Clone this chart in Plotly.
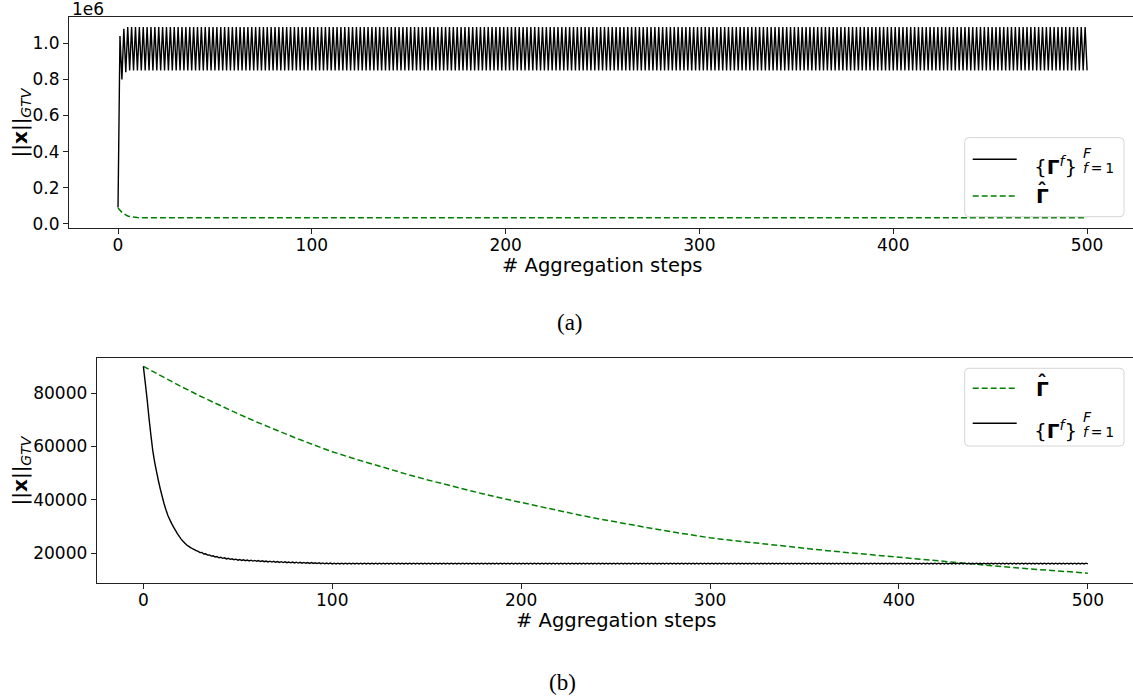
import plotly.graph_objects as go

# ---------------- data ----------------
# Panel (a): values in units of 1e6
gamma_f_a = [
    0.09, 1.04, 0.80, 1.08, 0.84,
    1.09, 0.85, 1.09, 0.85, 1.09, 0.85, 1.09, 0.85, 1.09, 0.85, 1.09, 0.85, 1.09, 0.85, 1.09, 0.85, 1.09, 0.85, 1.09, 0.85,
    1.09, 0.85, 1.09, 0.85, 1.09, 0.85, 1.09, 0.85, 1.09, 0.85, 1.09, 0.85, 1.09, 0.85, 1.09, 0.85, 1.09, 0.85, 1.09, 0.85,
    1.09, 0.85, 1.09, 0.85, 1.09, 0.85, 1.09, 0.85, 1.09, 0.85, 1.09, 0.85, 1.09, 0.85, 1.09, 0.85, 1.09, 0.85, 1.09, 0.85,
    1.09, 0.85, 1.09, 0.85, 1.09, 0.85, 1.09, 0.85, 1.09, 0.85, 1.09, 0.85, 1.09, 0.85, 1.09, 0.85, 1.09, 0.85, 1.09, 0.85,
    1.09, 0.85, 1.09, 0.85, 1.09, 0.85, 1.09, 0.85, 1.09, 0.85, 1.09, 0.85, 1.09, 0.85, 1.09, 0.85, 1.09, 0.85, 1.09, 0.85,
    1.09, 0.85, 1.09, 0.85, 1.09, 0.85, 1.09, 0.85, 1.09, 0.85, 1.09, 0.85, 1.09, 0.85, 1.09, 0.85, 1.09, 0.85, 1.09, 0.85,
    1.09, 0.85, 1.09, 0.85, 1.09, 0.85, 1.09, 0.85, 1.09, 0.85, 1.09, 0.85, 1.09, 0.85, 1.09, 0.85, 1.09, 0.85, 1.09, 0.85,
    1.09, 0.85, 1.09, 0.85, 1.09, 0.85, 1.09, 0.85, 1.09, 0.85, 1.09, 0.85, 1.09, 0.85, 1.09, 0.85, 1.09, 0.85, 1.09, 0.85,
    1.09, 0.85, 1.09, 0.85, 1.09, 0.85, 1.09, 0.85, 1.09, 0.85, 1.09, 0.85, 1.09, 0.85, 1.09, 0.85, 1.09, 0.85, 1.09, 0.85,
    1.09, 0.85, 1.09, 0.85, 1.09, 0.85, 1.09, 0.85, 1.09, 0.85, 1.09, 0.85, 1.09, 0.85, 1.09, 0.85, 1.09, 0.85, 1.09, 0.85,
    1.09, 0.85, 1.09, 0.85, 1.09, 0.85, 1.09, 0.85, 1.09, 0.85, 1.09, 0.85, 1.09, 0.85, 1.09, 0.85, 1.09, 0.85, 1.09, 0.85,
    1.09, 0.85, 1.09, 0.85, 1.09, 0.85, 1.09, 0.85, 1.09, 0.85, 1.09, 0.85, 1.09, 0.85, 1.09, 0.85, 1.09, 0.85, 1.09, 0.85,
    1.09, 0.85, 1.09, 0.85, 1.09, 0.85, 1.09, 0.85, 1.09, 0.85, 1.09, 0.85, 1.09, 0.85, 1.09, 0.85, 1.09, 0.85, 1.09, 0.85,
    1.09, 0.85, 1.09, 0.85, 1.09, 0.85, 1.09, 0.85, 1.09, 0.85, 1.09, 0.85, 1.09, 0.85, 1.09, 0.85, 1.09, 0.85, 1.09, 0.85,
    1.09, 0.85, 1.09, 0.85, 1.09, 0.85, 1.09, 0.85, 1.09, 0.85, 1.09, 0.85, 1.09, 0.85, 1.09, 0.85, 1.09, 0.85, 1.09, 0.85,
    1.09, 0.85, 1.09, 0.85, 1.09, 0.85, 1.09, 0.85, 1.09, 0.85, 1.09, 0.85, 1.09, 0.85, 1.09, 0.85, 1.09, 0.85, 1.09, 0.85,
    1.09, 0.85, 1.09, 0.85, 1.09, 0.85, 1.09, 0.85, 1.09, 0.85, 1.09, 0.85, 1.09, 0.85, 1.09, 0.85, 1.09, 0.85, 1.09, 0.85,
    1.09, 0.85, 1.09, 0.85, 1.09, 0.85, 1.09, 0.85, 1.09, 0.85, 1.09, 0.85, 1.09, 0.85, 1.09, 0.85, 1.09, 0.85, 1.09, 0.85,
    1.09, 0.85, 1.09, 0.85, 1.09, 0.85, 1.09, 0.85, 1.09, 0.85, 1.09, 0.85, 1.09, 0.85, 1.09, 0.85, 1.09, 0.85, 1.09, 0.85,
    1.09, 0.85, 1.09, 0.85, 1.09, 0.85, 1.09, 0.85, 1.09, 0.85, 1.09, 0.85, 1.09, 0.85, 1.09, 0.85, 1.09, 0.85, 1.09, 0.85,
    1.09, 0.85, 1.09, 0.85, 1.09, 0.85, 1.09, 0.85, 1.09, 0.85, 1.09, 0.85, 1.09, 0.85, 1.09, 0.85, 1.09, 0.85, 1.09, 0.85,
    1.09, 0.85, 1.09, 0.85, 1.09, 0.85, 1.09, 0.85, 1.09, 0.85, 1.09, 0.85, 1.09, 0.85, 1.09, 0.85, 1.09, 0.85, 1.09, 0.85,
    1.09, 0.85, 1.09, 0.85, 1.09, 0.85, 1.09, 0.85, 1.09, 0.85, 1.09, 0.85, 1.09, 0.85, 1.09, 0.85, 1.09, 0.85, 1.09, 0.85,
    1.09, 0.85, 1.09, 0.85, 1.09, 0.85, 1.09, 0.85, 1.09, 0.85, 1.09, 0.85, 1.09, 0.85, 1.09, 0.85, 1.09, 0.85, 1.09, 0.85,
    1.09, 0.85, 1.09, 0.85, 1.09, 0.85, 1.09, 0.85, 1.09, 0.85, 1.09, 0.85, 1.09, 0.85, 1.09, 0.85,
]
steps_a = list(range(len(gamma_f_a)))

hat_steps_a = [0, 1, 2, 3, 4, 5, 6, 7, 8, 9, 10, 12, 15, 20, 50, 100, 150, 200, 250, 300, 350, 400, 450, 500]
gamma_hat_a = [0.087, 0.074, 0.063, 0.055, 0.048, 0.043, 0.040, 0.038, 0.036, 0.035, 0.034, 0.0335, 0.033,
               0.033, 0.033, 0.033, 0.033, 0.033, 0.033, 0.033, 0.033, 0.033, 0.033, 0.033]

# Panel (b)
gamma_f_b = [
    90000, 83900, 77600, 70500, 64200, 58300, 54000, 50400, 47000, 43900,
    41100, 38400, 36100, 34100, 32500, 31000, 29700, 28500, 27300, 26200,
    25200, 24400, 23700, 23000, 22500, 22000, 21600, 21300, 20900, 20600,
    20150, 20200, 19650, 19700, 19200, 19300, 18830, 18950, 18500, 18650,
    18230, 18410, 18000, 18200, 17800, 18010, 17620, 17840, 17460, 17690,
    17320, 17570, 17220, 17470, 17120, 17380, 17040, 17300, 16960, 17230,
    16900, 17150, 16810, 17070, 16730, 16990, 16650, 16920, 16590, 16860,
    16530, 16800, 16470, 16740, 16410, 16680, 16350, 16630, 16310, 16590,
    16270, 16550, 16230, 16510, 16190, 16470, 16150, 16430, 16110, 16390,
    16070, 16350, 16030, 16310, 15990, 16270, 15950, 16240, 15930, 16220,
    15910,
    16200, 15900, 16200, 15900, 16200, 15900, 16200, 15900, 16200, 15900, 16200, 15900, 16200, 15900, 16200, 15900, 16200, 15900, 16200, 15900,
    16200, 15900, 16200, 15900, 16200, 15900, 16200, 15900, 16200, 15900, 16200, 15900, 16200, 15900, 16200, 15900, 16200, 15900, 16200, 15900,
    16200, 15900, 16200, 15900, 16200, 15900, 16200, 15900, 16200, 15900, 16200, 15900, 16200, 15900, 16200, 15900, 16200, 15900, 16200, 15900,
    16200, 15900, 16200, 15900, 16200, 15900, 16200, 15900, 16200, 15900, 16200, 15900, 16200, 15900, 16200, 15900, 16200, 15900, 16200, 15900,
    16200, 15900, 16200, 15900, 16200, 15900, 16200, 15900, 16200, 15900, 16200, 15900, 16200, 15900, 16200, 15900, 16200, 15900, 16200, 15900,
    16200, 15900, 16200, 15900, 16200, 15900, 16200, 15900, 16200, 15900, 16200, 15900, 16200, 15900, 16200, 15900, 16200, 15900, 16200, 15900,
    16200, 15900, 16200, 15900, 16200, 15900, 16200, 15900, 16200, 15900, 16200, 15900, 16200, 15900, 16200, 15900, 16200, 15900, 16200, 15900,
    16200, 15900, 16200, 15900, 16200, 15900, 16200, 15900, 16200, 15900, 16200, 15900, 16200, 15900, 16200, 15900, 16200, 15900, 16200, 15900,
    16200, 15900, 16200, 15900, 16200, 15900, 16200, 15900, 16200, 15900, 16200, 15900, 16200, 15900, 16200, 15900, 16200, 15900, 16200, 15900,
    16200, 15900, 16200, 15900, 16200, 15900, 16200, 15900, 16200, 15900, 16200, 15900, 16200, 15900, 16200, 15900, 16200, 15900, 16200, 15900,
    16200, 15900, 16200, 15900, 16200, 15900, 16200, 15900, 16200, 15900, 16200, 15900, 16200, 15900, 16200, 15900, 16200, 15900, 16200, 15900,
    16200, 15900, 16200, 15900, 16200, 15900, 16200, 15900, 16200, 15900, 16200, 15900, 16200, 15900, 16200, 15900, 16200, 15900, 16200, 15900,
    16200, 15900, 16200, 15900, 16200, 15900, 16200, 15900, 16200, 15900, 16200, 15900, 16200, 15900, 16200, 15900, 16200, 15900, 16200, 15900,
    16200, 15900, 16200, 15900, 16200, 15900, 16200, 15900, 16200, 15900, 16200, 15900, 16200, 15900, 16200, 15900, 16200, 15900, 16200, 15900,
    16200, 15900, 16200, 15900, 16200, 15900, 16200, 15900, 16200, 15900, 16200, 15900, 16200, 15900, 16200, 15900, 16200, 15900, 16200, 15900,
    16200, 15900, 16200, 15900, 16200, 15900, 16200, 15900, 16200, 15900, 16200, 15900, 16200, 15900, 16200, 15900, 16200, 15900, 16200, 15900,
    16200, 15900, 16200, 15900, 16200, 15900, 16200, 15900, 16200, 15900, 16200, 15900, 16200, 15900, 16200, 15900, 16200, 15900, 16200, 15900,
    16200, 15900, 16200, 15900, 16200, 15900, 16200, 15900, 16200, 15900, 16200, 15900, 16200, 15900, 16200, 15900, 16200, 15900, 16200, 15900,
    16200, 15900, 16200, 15900, 16200, 15900, 16200, 15900, 16200, 15900, 16200, 15900, 16200, 15900, 16200, 15900, 16200, 15900, 16200, 15900,
    16200, 15900, 16200, 15900, 16200, 15900, 16200, 15900, 16200, 15900, 16200, 15900, 16200, 15900, 16200, 15900, 16200, 15900, 16200, 15900,
]
steps_b = list(range(len(gamma_f_b)))

hat_steps_b = list(range(0, 501, 10))
gamma_hat_b = [90000, 86130, 82430, 78880, 75490, 72240, 69130, 66160, 63310, 60590,
               57980, 55710, 53530, 51440, 49430, 47500, 45640, 43860, 42140, 40500,
               38910, 37330, 35810, 34360, 32960, 31620, 30340, 29110, 27920, 26790,
               25700, 24850, 24040, 23250, 22480, 21740, 21030, 20340, 19670, 19020,
               18400, 17700, 17020, 16370, 15740, 15140, 14560, 14000, 13460, 12950, 12450]

x_ticks = [0, 100, 200, 300, 400, 500]
y_ticks_a = [0.0, 0.2, 0.4, 0.6, 0.8, 1.0]
y_ticktext_a = ["0.0", "0.2", "0.4", "0.6", "0.8", "1.0"]
y_ticks_b = [20000, 40000, 60000, 80000]
y_ticktext_b = ["20000", "40000", "60000", "80000"]

x_title = "# Aggregation steps"
y_title = "||<b>x</b>||<sub><i>GTV</i></sub>"

# ---------------- figure ----------------
W, H = 1133, 698
def px(x):
    return x / W
def py(y):
    return 1 - y / H

FONT = "DejaVu Sans"
BLACK_LINE = dict(color="black", width=1.4, simplify=False)
GREEN_LINE = dict(color="green", width=1.5, dash="6px,3px")

fig = go.Figure()
fig.add_trace(go.Scatter(x=steps_a, y=gamma_f_a, mode="lines", line=BLACK_LINE,
                         xaxis="x", yaxis="y", showlegend=False))
fig.add_trace(go.Scatter(x=hat_steps_a, y=gamma_hat_a, mode="lines", line=GREEN_LINE,
                         xaxis="x", yaxis="y", showlegend=False))
fig.add_trace(go.Scatter(x=hat_steps_b, y=gamma_hat_b, mode="lines", line=GREEN_LINE,
                         xaxis="x2", yaxis="y2", showlegend=False))
fig.add_trace(go.Scatter(x=steps_b, y=gamma_f_b, mode="lines", line=BLACK_LINE,
                         xaxis="x2", yaxis="y2", showlegend=False))

common = dict(showline=True, linecolor="#222", linewidth=1, ticks="outside", ticklen=5,
              tickwidth=1, tickcolor="#222", showgrid=False, zeroline=False,
              tickfont=dict(family=FONT, size=17, color="black"), automargin=False)

fig.update_layout(
    width=W, height=H, margin=dict(l=0, r=0, t=0, b=0),
    paper_bgcolor="white", plot_bgcolor="white",
    font=dict(family=FONT, color="black"),
    showlegend=False,
    xaxis=dict(domain=[px(69), 1], range=[-25.3, 523.7], tickvals=x_ticks, anchor="y",
               mirror=True, ticklabelstandoff=-3, **common),
    yaxis=dict(domain=[py(227.7), py(17.3)], range=[-0.022, 1.144], tickvals=y_ticks_a,
               ticktext=y_ticktext_a, anchor="x", **common),
    xaxis2=dict(domain=[px(96.7), 1], range=[-24.7, 523.9], tickvals=x_ticks, anchor="y2",
                mirror=True, ticklabelstandoff=-4, **common),
    yaxis2=dict(domain=[py(583.3), py(357.7)], range=[8640, 93240], tickvals=y_ticks_b,
                ticktext=y_ticktext_b, anchor="x2", **common),
)

ann = []
shapes = []
ann.append(dict(text="1e6", x=px(70), y=py(9), xref="paper", yref="paper", xanchor="left",
                yanchor="middle", showarrow=False, font=dict(family=FONT, size=17)))
for yc in (122.5, 470.5):
    ann.append(dict(text=y_title, x=px(20), y=py(yc), xref="paper", yref="paper", textangle=-90,
                    xanchor="center", yanchor="middle", showarrow=False,
                    font=dict(family=FONT, size=20)))
for xc, yc in ((602, 265), (616, 620)):
    ann.append(dict(text=x_title, x=px(xc), y=py(yc), xref="paper", yref="paper",
                    xanchor="center", yanchor="middle", showarrow=False,
                    font=dict(family=FONT, size=19.5)))
for txt, xc, yc in (("(a)", 570, 322), ("(b)", 562, 682)):
    ann.append(dict(text=txt, x=px(xc), y=py(yc), xref="paper", yref="paper",
                    xanchor="center", yanchor="middle", showarrow=False,
                    font=dict(family="Liberation Serif", size=23)))


# ---------------- legends (drawn as legend boxes in paper space) ----------------
def rounded_box(x0, y0, x1, y1, r=4):
    X = lambda v: px(v)
    Y = lambda v: py(v)
    path = (f"M {X(x0 + r)} {Y(y0)} L {X(x1 - r)} {Y(y0)} Q {X(x1)} {Y(y0)} {X(x1)} {Y(y0 + r)} "
            f"L {X(x1)} {Y(y1 - r)} Q {X(x1)} {Y(y1)} {X(x1 - r)} {Y(y1)} "
            f"L {X(x0 + r)} {Y(y1)} Q {X(x0)} {Y(y1)} {X(x0)} {Y(y1 - r)} "
            f"L {X(x0)} {Y(y0 + r)} Q {X(x0)} {Y(y0)} {X(x0 + r)} {Y(y0)} Z")
    return dict(type="path", path=path, xref="paper", yref="paper",
                line=dict(color="#d6d6d6", width=1), fillcolor="rgba(255,255,255,0.85)",
                layer="above")


def legend_row_f(yline):
    shapes.append(dict(type="line", xref="paper", yref="paper", x0=px(972.7), x1=px(1016.7),
                       y0=py(yline), y1=py(yline), line=dict(color="black", width=1.5),
                       layer="above"))
    ann.append(dict(text="{<b>Γ</b><sup><i>f</i></sup>}", x=px(1032), y=py(yline + 7),
                    xref="paper", yref="paper", xanchor="left", yanchor="middle",
                    showarrow=False, font=dict(family=FONT, size=20)))
    ann.append(dict(text="<i>F</i>", x=px(1081), y=py(yline - 6), xref="paper", yref="paper",
                    xanchor="left", yanchor="middle", showarrow=False,
                    font=dict(family=FONT, size=14)))
    ann.append(dict(text="<i>f</i>\u2009=\u20091", x=px(1081), y=py(yline + 9), xref="paper",
                    yref="paper", xanchor="left", yanchor="middle", showarrow=False,
                    font=dict(family=FONT, size=14)))


def legend_row_hat(yline):
    shapes.append(dict(type="line", xref="paper", yref="paper", x0=px(972.7), x1=px(1016.7),
                       y0=py(yline), y1=py(yline), line=dict(color="green", width=1.5,
                                                             dash="6px,3px"),
                       layer="above"))
    ann.append(dict(text="<b>Γ</b>", x=px(1034), y=py(yline + 0.5), xref="paper", yref="paper",
                    xanchor="left", yanchor="middle", showarrow=False,
                    font=dict(family=FONT, size=20)))
    ann.append(dict(text="<b>ˆ</b>", x=px(1041.5), y=py(yline - 6), xref="paper", yref="paper",
                    xanchor="center", yanchor="middle", showarrow=False,
                    font=dict(family=FONT, size=20)))


shapes.append(rounded_box(964.7, 137.7, 1124, 216.7))
legend_row_f(159.3)
legend_row_hat(196)

shapes.append(rounded_box(964.7, 368.3, 1124, 446))
legend_row_hat(388.3)
legend_row_f(423.3)

fig.update_layout(annotations=ann, shapes=shapes)

fig.write_html("out.html")
